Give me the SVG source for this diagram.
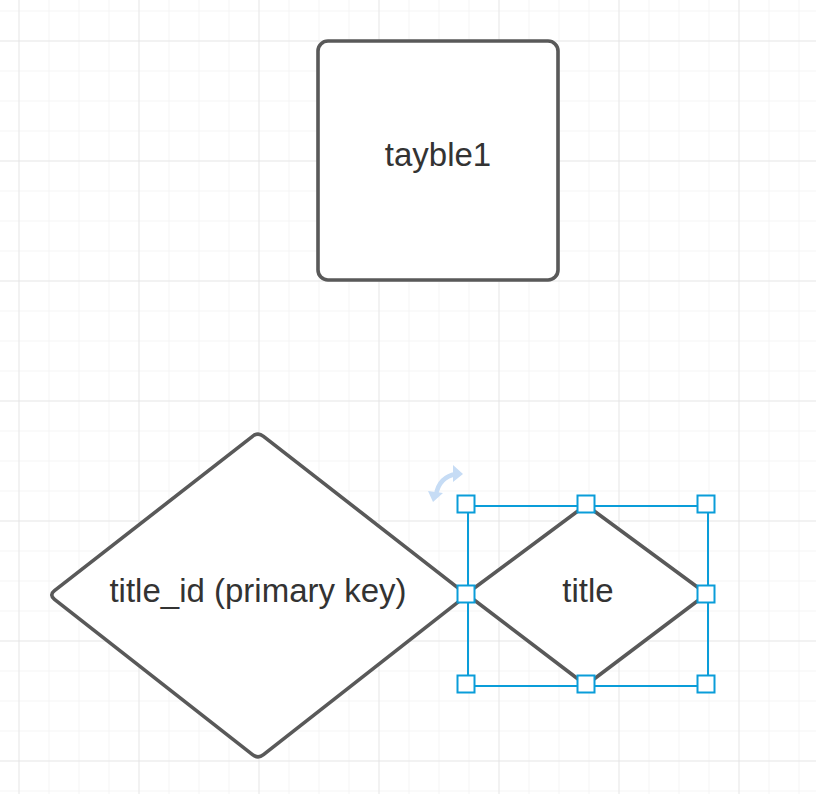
<svg xmlns="http://www.w3.org/2000/svg" width="816" height="794" viewBox="0 0 816 794">
<defs>
<pattern id="minor" x="18.5" y="10.5" width="30" height="30" patternUnits="userSpaceOnUse">
<path d="M0 0 V30 M0 0 H30" fill="none" stroke="#ebebeb" stroke-width="1"/>
</pattern>
<pattern id="major" x="18.5" y="40.5" width="120" height="120" patternUnits="userSpaceOnUse">
<path d="M0 0 V120 M0 0 H120" fill="none" stroke="#dcdcdc" stroke-width="1"/>
</pattern>
</defs>
<style>
.shape{fill:#ffffff;stroke:#595959;stroke-width:3.6;stroke-linejoin:round}
.label{font-family:"Liberation Sans",Arial,sans-serif;font-size:33px;fill:#333333;text-anchor:middle}
.sel{fill:none;stroke:#0a9dd9;stroke-width:2}
.handle{fill:#ffffff;stroke:#0a9dd9;stroke-width:2}
.rot{fill:none;stroke:#c6dcf5;stroke-width:4.5;stroke-linecap:butt}
</style>
<rect width="816" height="794" fill="#ffffff"/>
<rect width="816" height="794" fill="url(#minor)"/>
<rect width="816" height="794" fill="url(#major)"/>
<g id="connectors"></g>
<g id="tayble1">
<rect class="shape" x="318" y="41" width="240" height="239" rx="10" ry="10"/>
<text class="label" x="438" y="166">tayble1</text>
</g>
<g id="title_id">
<path class="shape" d="M252.5 436.3 Q258 432 263.5 436.3 L461.5 590.7 Q467 595 461.5 599.3 L263.5 754.7 Q258 759 252.5 754.7 L54.5 599.3 Q49 595 54.5 590.7 Z"/>
<text class="label" x="258" y="602">title_id (primary key)</text>
</g>
<g id="title">
<path class="shape" d="M581.6 508.2 Q586 505 590.4 508.2 L702.4 590.8 Q707 594 702.4 597.2 L590.4 681.8 Q586 685 581.6 681.8 L470.6 597.2 Q466 594 470.6 590.8 Z"/>
<text class="label" x="588" y="602">title</text>
</g>
<g id="selection">
<rect class="sel" x="468" y="506" width="240" height="180"/>
<path class="rot" d="M436 495 Q439 477 456 474"/>
<polygon points="453,465 463,474 453,482" fill="#c6dcf5"/>
<polygon points="428,491 443,493 433,502" fill="#c6dcf5"/>
<rect class="handle" x="457.5" y="495.5" width="17" height="17"/>
<rect class="handle" x="577.5" y="495.5" width="17" height="17"/>
<rect class="handle" x="697.5" y="495.5" width="17" height="17"/>
<rect class="handle" x="457.5" y="585.5" width="17" height="17"/>
<rect class="handle" x="697.5" y="585.5" width="17" height="17"/>
<rect class="handle" x="457.5" y="675.5" width="17" height="17"/>
<rect class="handle" x="577.5" y="675.5" width="17" height="17"/>
<rect class="handle" x="697.5" y="675.5" width="17" height="17"/>
</g>
</svg>
